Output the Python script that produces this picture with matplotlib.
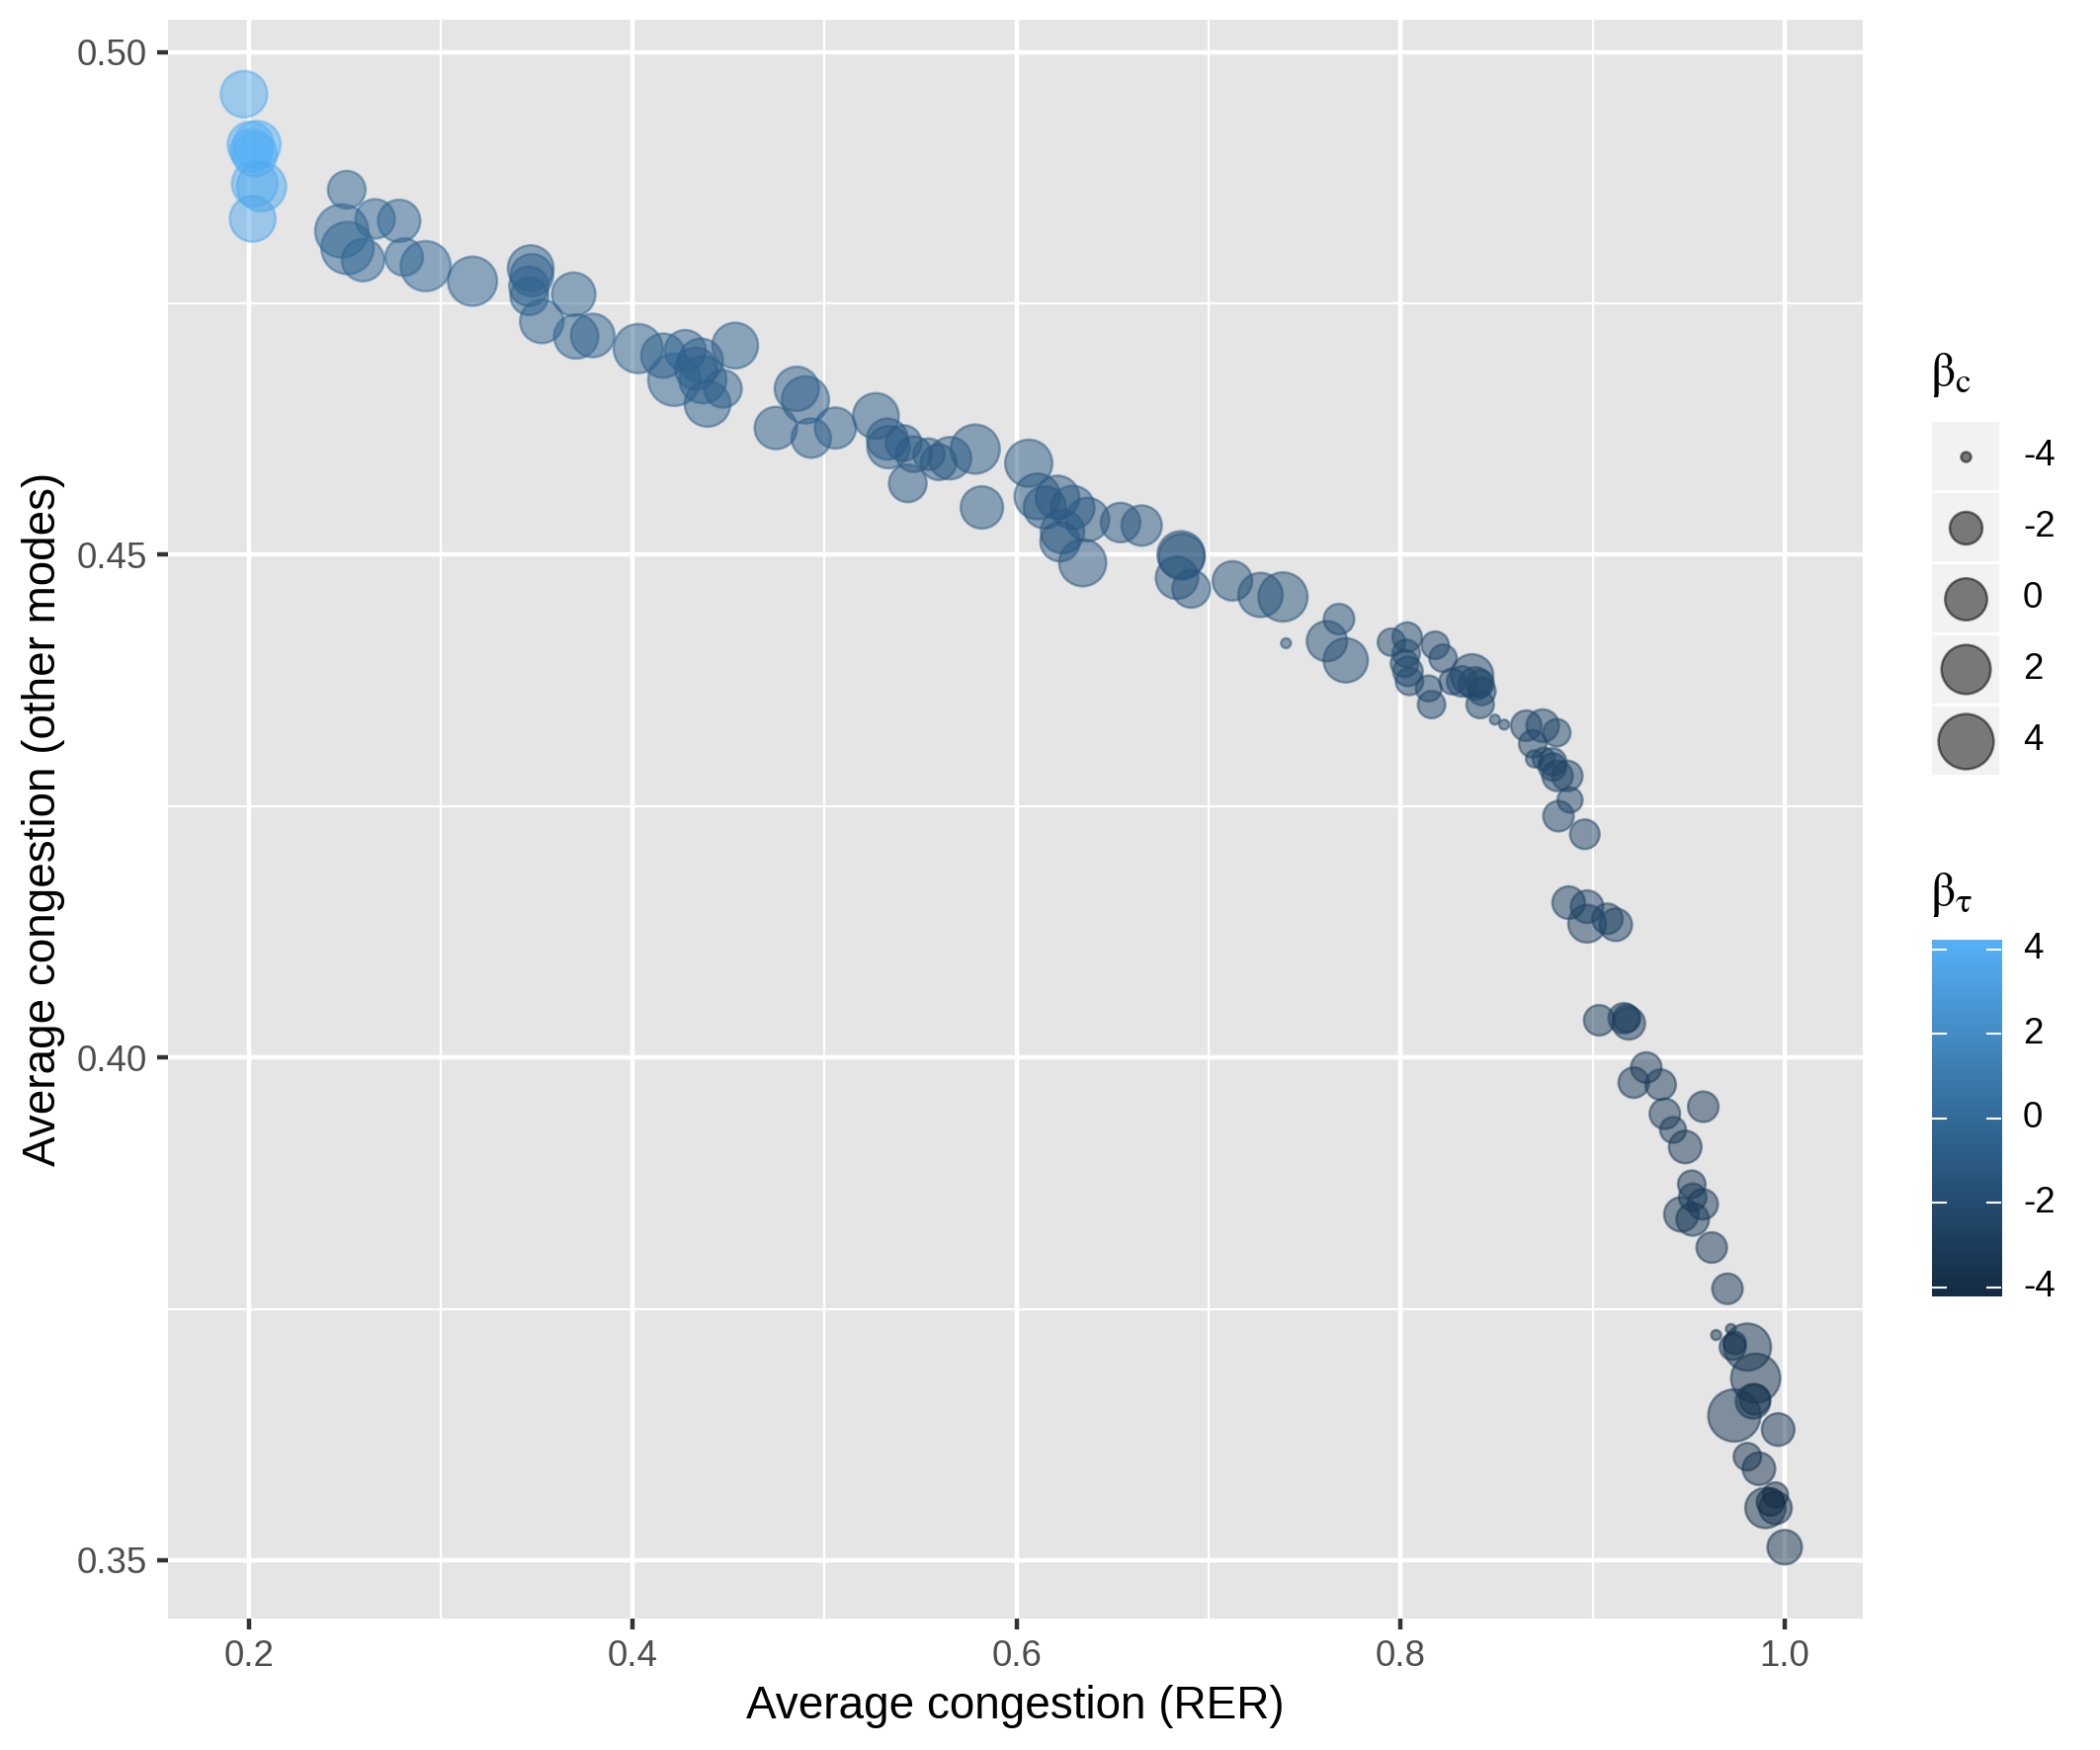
import numpy as np
import matplotlib
matplotlib.use("Agg")
import matplotlib.pyplot as plt
from matplotlib.colors import LinearSegmentedColormap, Normalize

W, H, DPI = 2125, 1771, 300

plt.rcParams['font.family'] = ['Liberation Sans', 'DejaVu Sans']
plt.rcParams['mathtext.fontset'] = 'stix'

# ---- data ----
# light group, then along the curve left to right
rer = [0.1976, 0.2010, 0.2044, 0.2032, 0.2015, 0.2032, 0.2067, 0.2021,
       0.2511, 0.2485, 0.2515, 0.2659, 0.2784, 0.2596, 0.2810, 0.2922, 0.3166,
       0.3469, 0.3475, 0.3460, 0.3462, 0.3693, 0.3527, 0.3706, 0.3792,
       0.4029, 0.4160, 0.4274, 0.4217, 0.4355, 0.4366, 0.4390, 0.4470, 0.4330, 0.4534,
       0.4855, 0.4900, 0.4746, 0.4930, 0.5056,
       0.5267, 0.5333, 0.5327, 0.5411, 0.5464, 0.5543, 0.5594, 0.5433, 0.5653, 0.5784,
       0.6063, 0.5819, 0.6108, 0.6147, 0.6213, 0.6292, 0.6239, 0.6226, 0.6344, 0.6369,
       0.6541, 0.6651,
       0.6856, 0.6860, 0.6835, 0.6909, 0.7124, 0.7270, 0.7387, 0.7403, 0.7679, 0.7616, 0.7714,
       0.7952, 0.8034, 0.8029, 0.8020, 0.8038, 0.8046, 0.8146, 0.8161, 0.8180, 0.8221,
       0.8269, 0.8320, 0.8372, 0.8389, 0.8414, 0.8423, 0.8414, 0.8491, 0.8539,
       0.8654, 0.8740, 0.8813, 0.8688, 0.8697, 0.8745, 0.8791, 0.8791, 0.8817, 0.8868,
       0.8882, 0.8822, 0.8959, 0.8875, 0.8971, 0.8971, 0.9077, 0.9120,
       0.9034, 0.9162, 0.9188, 0.9177, 0.9279, 0.9214, 0.9354, 0.9576, 0.9376, 0.9419,
       0.9482, 0.9516, 0.9521, 0.9573, 0.9462, 0.9521, 0.9620, 0.9702,
       0.9643, 0.9720, 0.9729, 0.9740, 0.9806, 0.9849, 0.9835, 0.9845, 0.9738, 0.9966,
       0.9806, 0.9866, 0.9952, 0.9900, 0.9952, 0.9926, 1.0000]

other = [0.4958, 0.4908, 0.4908, 0.4898, 0.4902, 0.4869, 0.4866, 0.4834,
         0.4863, 0.4822, 0.4805, 0.4834, 0.4832, 0.4793, 0.4796, 0.4787, 0.4772,
         0.4785, 0.4778, 0.4767, 0.4757, 0.4759, 0.4732, 0.4717, 0.4718,
         0.4705, 0.4698, 0.4703, 0.4674, 0.4693, 0.4674, 0.4650, 0.4665, 0.4685, 0.4708,
         0.4665, 0.4654, 0.4626, 0.4616, 0.4626,
         0.4638, 0.4607, 0.4615, 0.4611, 0.4600, 0.4600, 0.4592, 0.4571, 0.4596, 0.4605,
         0.4591, 0.4547, 0.4558, 0.4547, 0.4557, 0.4547, 0.4523, 0.4513, 0.4492, 0.4535,
         0.4532, 0.4529,
         0.4500, 0.4498, 0.4477, 0.4466, 0.4474, 0.4460, 0.4458, 0.4412, 0.4436, 0.4414, 0.4395,
         0.4413, 0.4418, 0.4402, 0.4392, 0.4384, 0.4374, 0.4367, 0.4351, 0.4410, 0.4397,
         0.4374, 0.4374, 0.4380, 0.4372, 0.4372, 0.4364, 0.4351, 0.4336, 0.4331,
         0.4330, 0.4330, 0.4323, 0.4312, 0.4297, 0.4297, 0.4294, 0.4289, 0.4280, 0.4280,
         0.4256, 0.4240, 0.4222, 0.4154, 0.4150, 0.4133, 0.4138, 0.4132,
         0.4037, 0.4039, 0.4034, 0.4039, 0.3990, 0.3975, 0.3973, 0.3951, 0.3944, 0.3928,
         0.3911, 0.3874, 0.3861, 0.3854, 0.3844, 0.3839, 0.3811, 0.3770,
         0.3724, 0.3730, 0.3712, 0.3716, 0.3712, 0.3681, 0.3658, 0.3660, 0.3644, 0.3630,
         0.3603, 0.3591, 0.3565, 0.3552, 0.3552, 0.3558, 0.3513]

beta_c = [1.2, 1.0, 1.4, 0.6, 0.1, 1.0, 2.0, 1.0,
          -1.0, 3.3, 3.0, -0.6, 0.1, 0.1, -1.0, 2.3, 2.0,
          1.0, 0.1, -0.6, -1.0, 0.4, 0.4, 0.6, 0.4,
          2.0, 0.6, -0.2, 3.0, 0.6, 1.4, 1.0, -1.0, 0.1, 1.0,
          0.6, 1.4, 0.1, -0.6, -0.2,
          1.0, 0.1, -0.2, -1.4, -1.4, -2.2, -1.4, -1.0, 0.1, 2.0,
          1.4, 0.1, 1.0, 0.1, 0.4, 0.4, 0.4, -0.6, 1.4, 0.4,
          -0.6, -0.4,
          1.4, 1.0, 0.1, -1.0, -0.6, 0.6, 2.0, -4.0, -2.35, -0.4, 0.6,
          -2.8, -2.5, -2.8, -2.8, -2.5, -2.8, -3.0, -2.8, -2.8, -2.8,
          -3.0, -2.35, 0.1, -2.0, -2.8, -2.8, -2.8, -4.0, -4.0,
          -2.35, -2.0, -2.8, -2.8, -3.8, -3.4, -2.8, -2.8, -2.35, -2.35,
          -3.1, -2.35, -2.5, -2.0, -2.0, -1.0, -2.35, -2.0,
          -2.35, -2.35, -2.0, -2.8, -2.35, -2.35, -2.35, -2.35, -2.35, -3.0,
          -2.0, -2.8, -2.8, -2.35, -1.65, -2.0, -2.35, -2.35,
          -4.0, -4.0, -3.0, -3.4, 1.4, 2.0, -1.65, -2.35, 3.0, -2.0,
          -2.8, -2.0, -3.1, -0.4, -2.0, -2.8, -1.65]

beta_tau = [3.9, 4.1, 4.23, 4.0, 4.2, 4.0, 3.8, 3.7,
            -0.2, -0.2, -0.2, -0.2, -0.2, -0.2, -0.2, -0.2, -0.3,
            -0.5, -0.5, -0.5, -0.5, -0.4, -0.4, -0.4, -0.4,
            -0.4, -0.4, -0.5, -0.4, -0.6, -0.6, -0.6, -0.6, -0.6, -0.5,
            -0.7, -0.7, -0.7, -0.7, -0.7,
            -0.9, -0.9, -0.9, -1.0, -1.0, -1.0, -1.0, -1.0, -1.0, -1.0,
            -1.0, -1.0, -1.1, -1.1, -1.1, -1.1, -1.1, -1.1, -1.1, -1.1,
            -1.2, -1.2,
            -1.4, -1.4, -1.4, -1.4, -1.5, -1.5, -1.5, -1.6, -1.7, -1.7, -1.7,
            -2.1, -2.1, -2.1, -2.1, -2.1, -2.1, -2.2, -2.2, -2.2, -2.2,
            -2.2, -2.2, -2.2, -2.2, -2.2, -2.2, -2.2, -2.3, -2.3,
            -2.3, -2.3, -2.3, -2.3, -2.3, -2.3, -2.3, -2.4, -2.4, -2.4,
            -2.4, -2.4, -2.5, -2.6, -2.6, -2.6, -2.6, -2.6,
            -2.9, -2.9, -2.9, -3.0, -3.0, -3.0, -3.0, -3.0, -3.0, -3.0,
            -3.1, -3.1, -3.1, -3.1, -3.1, -3.1, -3.2, -3.2,
            -3.5, -3.5, -3.5, -3.7, -3.4, -3.4, -3.6, -3.6, -3.3, -3.4,
            -3.5, -3.5, -3.7, -3.6, -3.7, -4.22, -3.5]

size_breaks = [-4, -2, 0, 2, 4]
colour_breaks = [-4, -2, 0, 2, 4]


def px_box(x0, y0, x1, y1):
    return [x0 / W, 1 - y1 / H, (x1 - x0) / W, (y1 - y0) / H]


def gg_size(v, lo=-4.0, hi=4.0):
    # area scale like ggplot's scale_size, returned as scatter s (pt^2)
    t = np.clip((np.asarray(v, dtype=float) - lo) / (hi - lo), 0, 1)
    s = 1 + 5 * np.sqrt(t)
    d_px = 3 + 9.17 * s - 2.1
    return (d_px * 72 / DPI) ** 2


cmap = LinearSegmentedColormap.from_list(
    'gg', [(0, '#132B43'), (0.5, '#336A98'), (1, '#56B1F7')])
norm = Normalize(min(beta_tau), max(beta_tau))

fig = plt.figure(figsize=(W / DPI, H / DPI), dpi=DPI)
ax = fig.add_axes(px_box(169.6, 20, 1885, 1638))
ax.set_facecolor('#E5E5E5')
for s in ax.spines.values():
    s.set_visible(False)

ax.set_xlim(0.1578, 1.0407)
ax.set_ylim(0.3442, 0.5032)
ax.set_xticks([0.2, 0.4, 0.6, 0.8, 1.0])
ax.set_xticklabels(['0.2', '0.4', '0.6', '0.8', '1.0'])
ax.set_yticks([0.35, 0.40, 0.45, 0.50])
ax.set_yticklabels(['0.35', '0.40', '0.45', '0.50'])
ax.set_xticks([0.3, 0.5, 0.7, 0.9], minor=True)
ax.set_yticks([0.375, 0.425, 0.475], minor=True)
ax.grid(True, which='major', color='white', linewidth=1.07)
ax.grid(True, which='minor', color='white', linewidth=0.53)
ax.set_axisbelow(True)
ax.tick_params(which='major', length=2.75, width=1.07, color='#333333',
               labelsize=8.8, labelcolor='#4D4D4D', pad=2.2)
ax.tick_params(which='minor', length=0)

ax.scatter(rer, other, s=gg_size(beta_c), c=beta_tau, cmap=cmap, norm=norm,
           alpha=0.5, linewidths=0.6, edgecolors='face', zorder=3)

ax.set_xlabel('Average congestion (RER)', fontsize=11, labelpad=2.75)
ax.set_ylabel('Average congestion (other modes)', fontsize=11, labelpad=2.75)

# size legend
fig.text(1953 / W, 1 - 380 / H, r'$\mathrm{\beta}_{\mathrm{c}}$', fontsize=12,
         ha='left', va='center')
tops = [427, 499, 571, 643, 715]
for top, b in zip(tops, size_breaks):
    kax = fig.add_axes(px_box(1955, top, 2023, top + 69))
    kax.set_facecolor('#F2F2F2')
    kax.set_xlim(0, 1)
    kax.set_ylim(0, 1)
    kax.set_xticks([])
    kax.set_yticks([])
    for s in kax.spines.values():
        s.set_visible(False)
    kax.scatter([0.5], [0.5], s=gg_size(b), color='black', alpha=0.5,
                linewidths=0.6, edgecolors='face')
    fig.text(2047 / W, 1 - (top + 34.5) / H, str(b), fontsize=8.8,
             ha='left', va='center')

# colour bar
fig.text(1953 / W, 1 - 905 / H, r'$\mathrm{\beta}_{\mathrm{\tau}}$', fontsize=12,
         ha='left', va='center')
lo, hi = min(beta_tau), max(beta_tau)
cax = fig.add_axes(px_box(1955, 951, 2025, 1312))
grad = np.linspace(lo, hi, 256).reshape(-1, 1)
cax.imshow(grad, cmap=cmap, norm=norm, aspect='auto', origin='lower',
           extent=[0, 1, lo, hi])
cax.set_xlim(0, 1)
cax.set_ylim(lo, hi)
cax.set_xticks([])
cax.set_yticks([])
for s in cax.spines.values():
    s.set_visible(False)
for b in colour_breaks:
    cax.plot([0, 0.2], [b, b], color='white', linewidth=0.5)
    cax.plot([0.8, 1], [b, b], color='white', linewidth=0.5)
    fig.text(2047 / W, 1 - (1312 - (b - lo) / (hi - lo) * 361) / H, str(b),
             fontsize=8.8, ha='left', va='center')

fig.savefig('out.png', dpi=DPI)
